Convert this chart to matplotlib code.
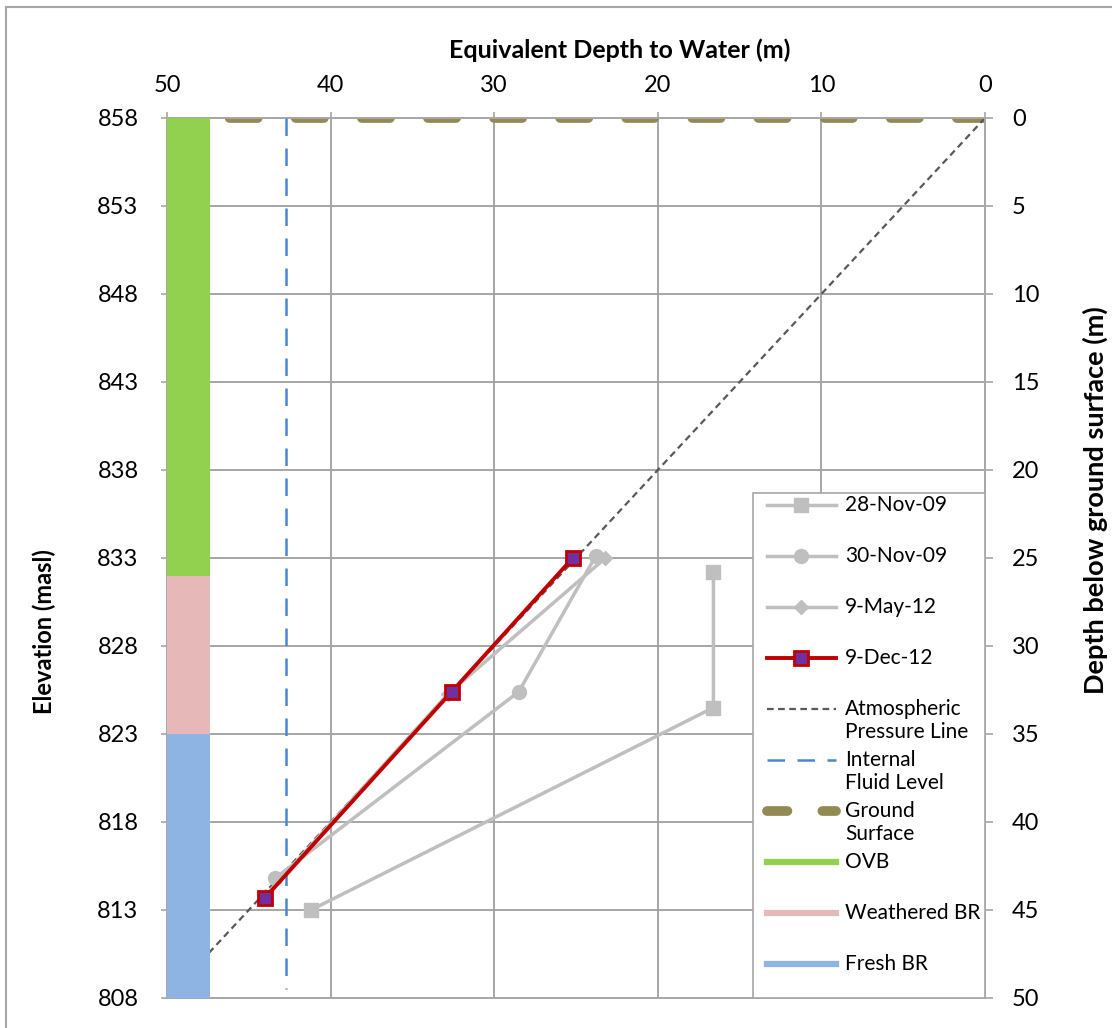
import matplotlib.pyplot as plt
from matplotlib.lines import Line2D
from matplotlib.patches import Rectangle

plt.rcParams['font.family'] = ['Lato', 'DejaVu Sans']

# readings: equivalent depth to water (m) vs elevation (masl)
nov28_x = [16.6, 16.6, 41.2]
nov28_y = [832.2, 824.5, 813.0]
nov30_x = [23.8, 28.5, 43.4]
nov30_y = [833.1, 825.4, 814.8]
may12_x = [23.2, 32.8, 44.0]
may12_y = [833.0, 825.3, 813.8]
dec12_x = [25.2, 32.6, 44.0]
dec12_y = [833.0, 825.4, 813.7]

atm_x = [0, 50]
atm_y = [858, 808]
fluid_level = 42.7
ground_elev = 858

# stratigraphy (name, top, bottom elevation, colour)
layers = [("OVB", 858, 832, "#92D050"),
          ("Weathered BR", 832, 823, "#E6B9B8"),
          ("Fresh BR", 823, 808, "#8DB4E2")]
layer_x = (50, 47.4)

elev_ticks = list(range(808, 859, 5))
depth_ticks = list(range(0, 51, 5))
x_ticks = [50, 40, 30, 20, 10, 0]

W, H = 1112, 1028
AX_L, AX_R, AX_T, AX_B = 167, 985, 118, 998


def to_ax(x, y):
    # figure pixel -> axes fraction
    return (x - AX_L) / (AX_R - AX_L), (AX_B - y) / (AX_B - AX_T)


fig = plt.figure(figsize=(W / 100, H / 100), dpi=100)
fig.patches.append(Rectangle((6 / W, -0.01), 1.1, 1 - 7 / H + 0.01,
                             transform=fig.transFigure, fill=False,
                             edgecolor="#A6A6A6", lw=1.5))
ax = fig.add_axes([AX_L / W, 1 - AX_B / H, (AX_R - AX_L) / W, (AX_B - AX_T) / H])

grid_c = "#A6A6A6"
gray = "#BFBFBF"
for v in [40, 30, 20, 10]:
    ax.axvline(v, color=grid_c, lw=1.4, zorder=0)
for e in elev_ticks[1:-1]:
    ax.axhline(e, color=grid_c, lw=1.4, zorder=0)

ground_style = dict(color="#938953", lw=7, dash_capstyle="round")
atm_style = dict(color="#595959", lw=1.6, ls=(0, (3, 2)))
fluid_style = dict(color="#4A86D8", lw=1.8, ls=(0, (7, 5)))
nov28_style = dict(color=gray, lw=2.5, marker="s", ms=10)
nov30_style = dict(color=gray, lw=2.5, marker="o", ms=10)
may12_style = dict(color=gray, lw=2.5, marker="D", ms=7)
dec12_style = dict(color="#C00000", lw=2.8, marker="s", ms=10,
                   mfc="#7030A0", mec="#C00000", mew=2)

ax.plot([0, 50], [ground_elev, ground_elev], dashes=(2.9, 3.9), zorder=2, **ground_style)
ax.plot(atm_x, atm_y, zorder=2, **atm_style)
ax.plot([fluid_level, fluid_level], [858, 808.5], zorder=3, **fluid_style)

for name, top, bot, c in layers:
    ax.fill_betweenx([bot, top], layer_x[0], layer_x[1], color=c, lw=0, zorder=3)

ax.plot(nov28_x, nov28_y, zorder=4, **nov28_style)
ax.plot(nov30_x, nov30_y, zorder=4, **nov30_style)
ax.plot(may12_x, may12_y, zorder=4, **may12_style)
ax.plot(dec12_x, dec12_y, zorder=5, **dec12_style)

ax.set_xlim(50, 0)
ax.set_ylim(808, 858)
ax.xaxis.tick_top()
ax.set_xticks(x_ticks)
ax.set_yticks(elev_ticks)
ax.tick_params(labelsize=17, color=grid_c, length=4.5, width=1.2, direction="out")
ax.tick_params(axis="x", pad=11)
ax.tick_params(axis="y", pad=16)
for side in ["left", "top", "bottom"]:
    ax.spines[side].set_color(grid_c)
    ax.spines[side].set_linewidth(1.4)
ax.spines["right"].set_visible(False)

ax2 = ax.twinx()
ax2.set_ylim(50, 0)
ax2.set_yticks(depth_ticks)
ax2.tick_params(labelsize=17, color=grid_c, length=6, width=1.2, pad=13.5)
for side in ["left", "top", "bottom"]:
    ax2.spines[side].set_visible(False)
ax2.spines["right"].set_color(grid_c)
ax2.spines["right"].set_linewidth(1.4)

fig.text(620 / W, 1 - 50 / H, "Equivalent Depth to Water (m)", fontsize=18,
         fontweight="bold", ha="center", va="center")
fig.text(44 / W, 1 - 632 / H, "Elevation (masl)", fontsize=17,
         fontweight="bold", ha="center", va="center", rotation=90)
fig.text(1095 / W, 1 - 500 / H, "Depth below ground surface (m)", fontsize=19.5,
         fontweight="bold", ha="center", va="center", rotation=90)

# legend box, Excel-style: fixed row height, handle on the first text line
bx0, by0 = to_ax(753, AX_B)
bx1, by1 = to_ax(AX_R, 493)
ax2.add_patch(Rectangle((bx0, by0), bx1 - bx0, by1 - by0, transform=ax2.transAxes,
                        facecolor="white", edgecolor=grid_c, lw=1.2, zorder=20,
                        clip_on=False))

entries = [
    (["28-Nov-09"], nov28_style),
    (["30-Nov-09"], nov30_style),
    (["9-May-12"], may12_style),
    (["9-Dec-12"], dec12_style),
    (["Atmospheric", "Pressure Line"], atm_style),
    (["Internal", "Fluid Level"], fluid_style),
    (["Ground", "Surface"], dict(ground_style, dashes=(2.1, 3.6))),
]
for name, top, bot, c in layers:
    entries.append(([name], dict(color=c, lw=4.5)))

row0, row_h, line_h = 505, 51, 23
for i, (lines, style) in enumerate(entries):
    yp = row0 + i * row_h
    hx0, hy = to_ax(767, yp)
    hx1, _ = to_ax(836, yp)
    st = {k: v for k, v in style.items() if k != "marker"}
    ax2.add_line(Line2D([hx0, hx1], [hy, hy], transform=ax2.transAxes,
                        zorder=21, clip_on=False, **st))
    if "marker" in style:
        mk = {k: v for k, v in style.items() if k not in ("lw", "ls")}
        ax2.add_line(Line2D([(hx0 + hx1) / 2], [hy], transform=ax2.transAxes,
                            zorder=22, clip_on=False, ls="none", **mk))
    for j, txt in enumerate(lines):
        tx, ty = to_ax(845, yp + j * line_h)
        ax2.text(tx, ty, txt, transform=ax2.transAxes, fontsize=15,
                 va="center", ha="left", zorder=23)

fig.savefig("out.png", dpi=100)
